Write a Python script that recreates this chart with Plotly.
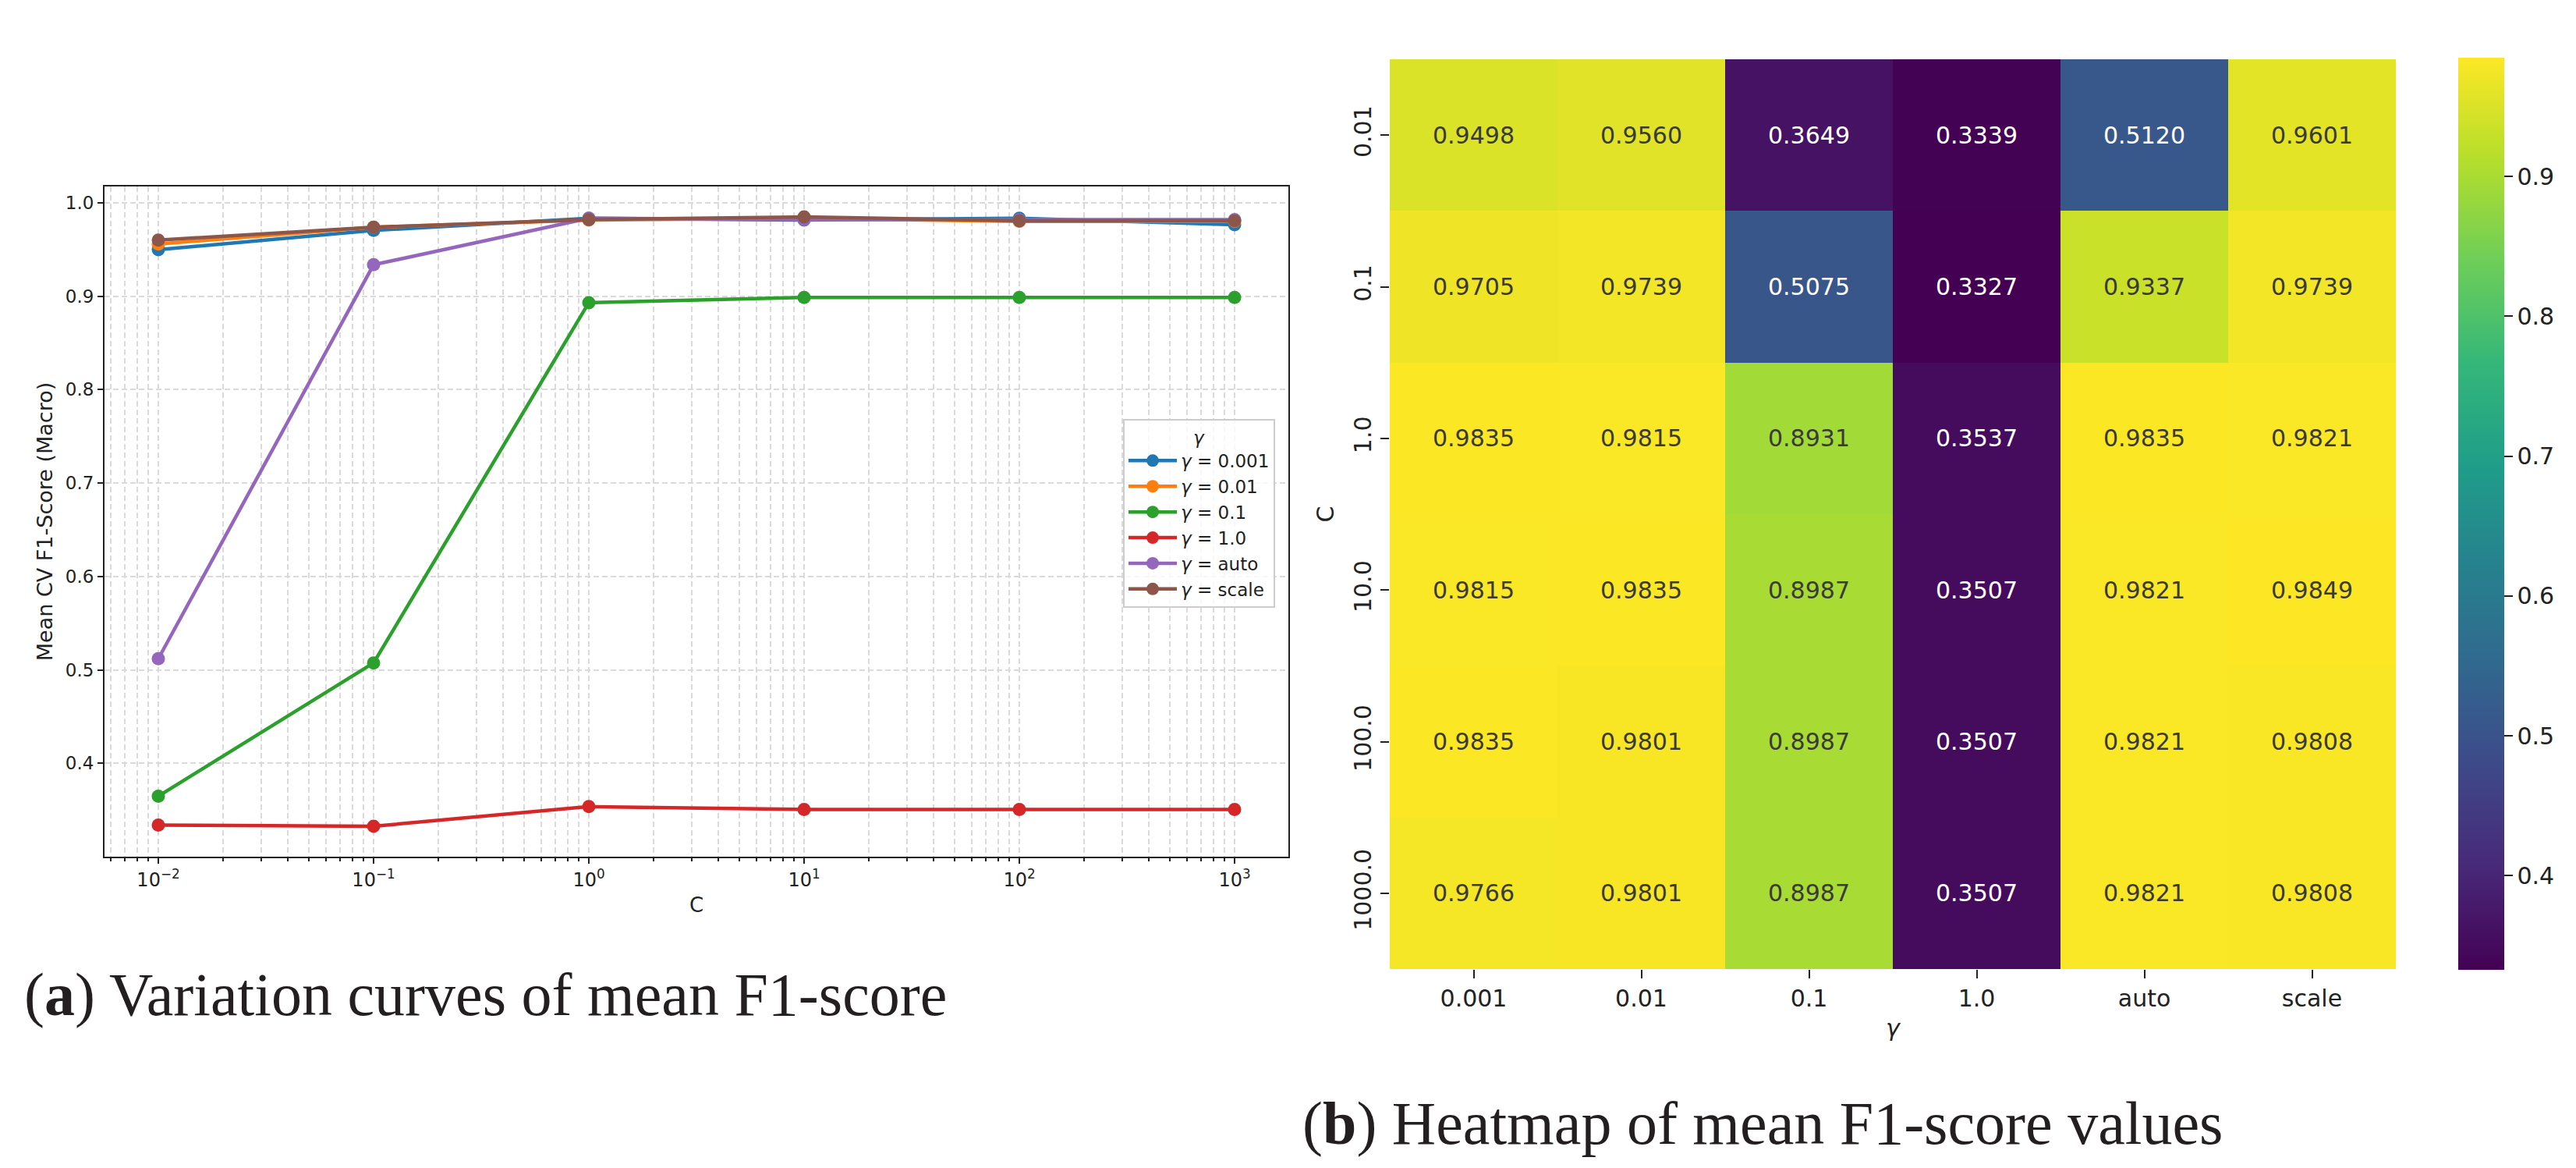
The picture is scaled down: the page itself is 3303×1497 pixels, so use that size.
import plotly.graph_objects as go

# hyper-parameter grid
C_VALUES = [0.01, 0.1, 1.0, 10.0, 100.0, 1000.0]
C_LABELS = ['0.01', '0.1', '1.0', '10.0', '100.0', '1000.0']
C_TICKTEXT = ['10<sup>−2</sup>', '10<sup>−1</sup>', '10<sup>0</sup>',
              '10<sup>1</sup>', '10<sup>2</sup>', '10<sup>3</sup>']
GAMMA_LABELS = ['0.001', '0.01', '0.1', '1.0', 'auto', 'scale']

# mean CV F1 (macro), one list per gamma, ordered by C
F1_G0001 = [0.9498, 0.9705, 0.9835, 0.9815, 0.9835, 0.9766]
F1_G001 = [0.9560, 0.9739, 0.9815, 0.9835, 0.9801, 0.9801]
F1_G01 = [0.3649, 0.5075, 0.8931, 0.8987, 0.8987, 0.8987]
F1_G1 = [0.3339, 0.3327, 0.3537, 0.3507, 0.3507, 0.3507]
F1_AUTO = [0.5120, 0.9337, 0.9835, 0.9821, 0.9821, 0.9821]
F1_SCALE = [0.9601, 0.9739, 0.9821, 0.9849, 0.9808, 0.9808]

SERIES = [F1_G0001, F1_G001, F1_G01, F1_G1, F1_AUTO, F1_SCALE]
COLORS = ['#1f77b4', '#ff7f0e', '#2ca02c', '#d62728', '#9467bd', '#8c564b']

W, H = 3303, 1497
FONT = 'DejaVu Sans'
INK = '#222222'
GRID = '#dadada'


def px_x(p):
    return p / W


def px_y(p):
    return 1 - p / H


fig = go.Figure()

# (a) variation curves
for gamma, vals, color in zip(GAMMA_LABELS, SERIES, COLORS):
    fig.add_trace(go.Scatter(
        x=C_VALUES, y=vals, mode='lines+markers', name=f'<i>γ</i> = {gamma}',
        line=dict(color=color, width=4.5), marker=dict(size=17, color=color),
        xaxis='x', yaxis='y'))

# (b) heatmap, rows = C, columns = gamma
z = [[SERIES[j][i] for j in range(len(GAMMA_LABELS))] for i in range(len(C_VALUES))]
zmin = min(min(r) for r in z)
zmax = max(max(r) for r in z)

fig.add_trace(go.Heatmap(
    z=z, x=list(range(len(GAMMA_LABELS))), y=list(range(len(C_LABELS))),
    colorscale='Viridis', zmin=zmin, zmax=zmax,
    xaxis='x2', yaxis='y2', showlegend=False,
    colorbar=dict(
        x=px_x(3144), xanchor='left', y=px_y(66), yanchor='top',
        len=1169, lenmode='pixels', thickness=59, thicknessmode='pixels',
        outlinewidth=0, ticks='outside', ticklen=11, tickwidth=2, tickcolor=INK,
        tickvals=[0.4, 0.5, 0.6, 0.7, 0.8, 0.9], ticktext=['0.4', '0.5', '0.6', '0.7', '0.8', '0.9'],
        tickfont=dict(family=FONT, size=30, color=INK), xpad=0, ypad=0)))

annotations = []
for i in range(len(C_LABELS)):
    for j in range(len(GAMMA_LABELS)):
        v = z[i][j]
        annotations.append(dict(
            x=j, y=i, xref='x2', yref='y2', text=f'{v:.4f}', showarrow=False,
            font=dict(family=FONT, size=30, color='#ffffff' if v < 0.7 else '#3a3a3a')))

annotations.append(dict(
    x=px_x(21), y=px_y(1266), xref='paper', yref='paper', xanchor='left', yanchor='middle',
    text='(<b>a</b>) Variation curves of mean F1-score', showarrow=False,
    font=dict(family='Liberation Serif', size=78, color='#231f20')))
annotations.append(dict(
    x=px_x(1660), y=px_y(1431), xref='paper', yref='paper', xanchor='left', yanchor='middle',
    text='(<b>b</b>) Heatmap of mean F1-score values', showarrow=False,
    font=dict(family='Liberation Serif', size=78, color='#231f20')))

fig.update_layout(
    width=W, height=H,
    margin=dict(l=0, r=0, t=0, b=0),
    paper_bgcolor='white', plot_bgcolor='white',
    font=dict(family=FONT, color=INK),
    xaxis=dict(
        domain=[px_x(126), px_x(1644)], anchor='y', type='log', range=[-2.25, 3.25],
        tickvals=C_VALUES, ticktext=C_TICKTEXT, tickfont=dict(size=24, color=INK),
        showline=True, mirror=True, linecolor=INK, linewidth=2,
        ticks='outside', ticklen=7, tickwidth=2, tickcolor=INK,
        showgrid=True, gridcolor=GRID, gridwidth=1.5, griddash='7px,4px', zeroline=False,
        minor=dict(ticks='outside', ticklen=4, tickwidth=1.5, tickcolor=INK, dtick='D1',
                   showgrid=True, gridcolor=GRID, gridwidth=1.5, griddash='7px,4px'),
        title=dict(text='C', font=dict(size=26, color=INK), standoff=10)),
    yaxis=dict(
        domain=[px_y(1090), px_y(231)], anchor='x', range=[0.3001, 1.0175],
        tickvals=[0.4, 0.5, 0.6, 0.7, 0.8, 0.9, 1.0], tickformat='.1f',
        tickfont=dict(size=23, color=INK),
        showline=True, mirror=True, linecolor=INK, linewidth=2,
        ticks='outside', ticklen=7, tickwidth=2, tickcolor=INK,
        showgrid=True, gridcolor=GRID, gridwidth=1.5, griddash='7px,4px', zeroline=False,
        title=dict(text='Mean CV F1-Score (Macro)', font=dict(size=27, color=INK), standoff=8)),
    xaxis2=dict(
        domain=[px_x(1774), px_x(3064)], anchor='y2', range=[-0.5, 5.5],
        tickvals=list(range(len(GAMMA_LABELS))), ticktext=GAMMA_LABELS,
        tickfont=dict(size=30, color=INK), ticks='outside', ticklen=11, tickwidth=2,
        tickcolor=INK, showgrid=False, zeroline=False, showline=False,
        title=dict(text='<i>γ</i>', font=dict(size=30, color=INK), standoff=10)),
    yaxis2=dict(
        domain=[px_y(1234), px_y(68)], anchor='x2', range=[5.5, -0.5],
        tickvals=list(range(len(C_LABELS))), ticktext=C_LABELS,
        tickangle=-90, tickfont=dict(size=30, color=INK), ticks='outside', ticklen=11,
        tickwidth=2, tickcolor=INK, showgrid=False, zeroline=False, showline=False,
        title=dict(text='C', font=dict(size=30, color=INK), standoff=10)),
    legend=dict(
        x=px_x(1432), y=px_y(529), xanchor='left', yanchor='top',
        bgcolor='rgba(255,255,255,0.8)', bordercolor='#cccccc', borderwidth=2,
        font=dict(family=FONT, size=23, color=INK),
        title=dict(text='<i>γ</i>', side='top center', font=dict(size=23, color=INK)),
        tracegroupgap=5, itemwidth=62),
    annotations=annotations,
)

fig.write_html('out.html')
